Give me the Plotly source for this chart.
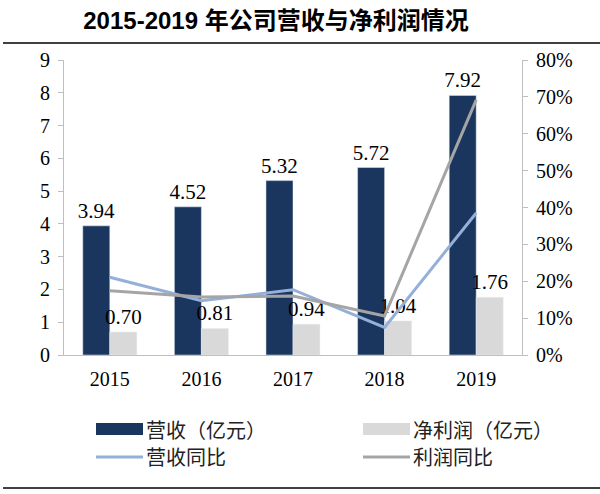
import plotly.graph_objects as go

years = ["2015", "2016", "2017", "2018", "2019"]
revenue = [3.94, 4.52, 5.32, 5.72, 7.92]
net_profit = [0.70, 0.81, 0.94, 1.04, 1.76]
revenue_yoy = [0.211, 0.147, 0.177, 0.075, 0.385]
profit_yoy = [0.174, 0.157, 0.160, 0.106, 0.692]

left_ticks = list(range(0, 10))
right_ticks = [i / 10 for i in range(0, 9)]

NAVY = "#1B365E"
LIGHT = "#D9D9D9"
BLUE = "#95B0D8"
GREY = "#A5A5A5"
AXIS = "#BFBFBF"
SERIF = "Liberation Serif"
CJK = "Noto Sans CJK SC"

fig = go.Figure()

fig.add_trace(go.Bar(
    x=years, y=revenue, name="营收（亿元）",
    marker=dict(color=NAVY),
    text=[f"{v:.2f}" for v in revenue], textposition="outside",
    textfont=dict(family=SERIF, size=21, color="black"),
    constraintext="none", cliponaxis=False,
))
fig.add_trace(go.Bar(
    x=years, y=net_profit, name="净利润（亿元）",
    marker=dict(color=LIGHT),
    text=[f"{v:.2f}" for v in net_profit], textposition="outside",
    textfont=dict(family=SERIF, size=21, color="black"),
    constraintext="none", cliponaxis=False,
))
fig.add_trace(go.Scatter(
    x=years, y=revenue_yoy, name="营收同比", mode="lines",
    line=dict(color=BLUE, width=3), yaxis="y2",
))
fig.add_trace(go.Scatter(
    x=years, y=profit_yoy, name="利润同比", mode="lines",
    line=dict(color=GREY, width=3), yaxis="y2",
))

# plot area: x 64..522, y 60..355 (px)
W, H = 600, 494
L, R, T, B = 64, 522, 60, 355
pw, ph = R - L, B - T


def px(x):
    return (x - L) / pw


def py(y):
    return (B - y) / ph


shapes = [
    dict(type="line", xref="paper", yref="paper", x0=px(3), x1=px(600),
         y0=py(43), y1=py(43), line=dict(color="black", width=1.5)),
    dict(type="line", xref="paper", yref="paper", x0=px(3), x1=px(600),
         y0=py(488), y1=py(488), line=dict(color="black", width=1.5)),
]
annotations = []

legend_items = [
    ("营收（亿元）", "rect", NAVY, 96, 429),
    ("净利润（亿元）", "rect", LIGHT, 363, 429),
    ("营收同比", "line", BLUE, 96, 457),
    ("利润同比", "line", GREY, 363, 457),
]
for label, kind, color, x0, yc in legend_items:
    if kind == "rect":
        shapes.append(dict(type="rect", xref="paper", yref="paper",
                           x0=px(x0), x1=px(x0 + 47), y0=py(yc + 6), y1=py(yc - 6),
                           fillcolor=color, line=dict(width=0)))
    else:
        shapes.append(dict(type="line", xref="paper", yref="paper",
                           x0=px(x0), x1=px(x0 + 47), y0=py(yc), y1=py(yc),
                           line=dict(color=color, width=3)))
    annotations.append(dict(text=label, xref="paper", yref="paper",
                            x=px(x0 + 48), y=py(yc), xanchor="left", yanchor="middle",
                            showarrow=False, font=dict(family=CJK, size=20, color="#222222")))

fig.update_layout(
    width=W, height=H,
    margin=dict(l=L, r=W - R, t=T, b=H - B),
    paper_bgcolor="white", plot_bgcolor="white",
    showlegend=False,
    barmode="group", bargap=0.41, bargroupgap=0,
    title=dict(text="<b>2015-2019 年公司营收与净利润情况</b>",
               x=276 / W, xanchor="center", y=1 - 21 / H, yanchor="middle",
               font=dict(family="Liberation Sans, Noto Sans CJK SC", size=24, color="black")),
    xaxis=dict(showline=True, linecolor=AXIS, linewidth=1, ticks="",
               ticklabelstandoff=6,
               tickfont=dict(family=SERIF, size=20, color="black")),
    yaxis=dict(range=[0, 9], tickvals=left_ticks, showgrid=False, zeroline=False,
               showline=True, linecolor=AXIS, linewidth=1,
               ticks="outside", ticklen=5, tickcolor=AXIS, ticklabelstandoff=4,
               tickfont=dict(family=SERIF, size=20, color="black")),
    yaxis2=dict(range=[0, 0.8], tickvals=right_ticks, tickformat=".0%",
                overlaying="y", side="right", showgrid=False, zeroline=False,
                showline=True, linecolor=AXIS, linewidth=1,
                ticks="outside", ticklen=5, tickcolor=AXIS, ticklabelstandoff=4,
                tickfont=dict(family=SERIF, size=20, color="black")),
    shapes=shapes,
    annotations=annotations,
)

fig.write_html(
    "out.html",
    config={"displayModeBar": False},
    post_script="document.body.style.margin='0';document.body.style.overflow='hidden';",
)
